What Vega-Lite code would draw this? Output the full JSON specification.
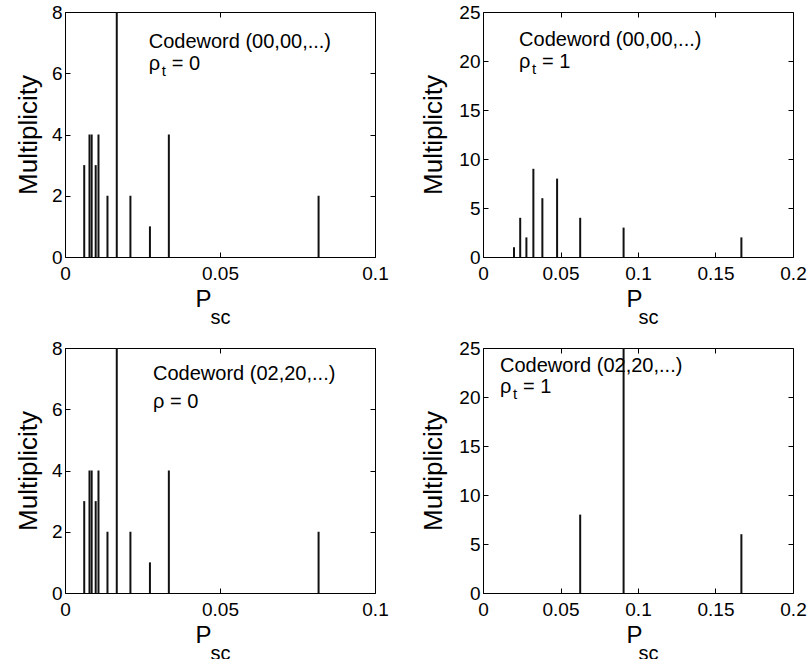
{
  "$schema": "https://vega.github.io/schema/vega-lite/v6.json",
  "background": "white",
  "padding": {"left": 14, "top": 2, "right": 0, "bottom": 0},
  "bounds": "flush",
  "columns": 2,
  "spacing": {"row": 91, "column": 108},
  "config": {
    "font": "Liberation Sans",
    "view": {"stroke": "black", "strokeWidth": 1},
    "axis": {"domain": false, "grid": false, "tickColor": "black", "tickSize": -5, "labelColor": "black", "labelFontSize": 19, "labelFont": "Liberation Sans", "labelFlush": false, "labelOverlap": false, "titleColor": "black", "titleFont": "Liberation Sans", "titleFontWeight": "normal"},
    "text": {"font": "Liberation Sans", "fontSize": 20, "fontWeight": "normal", "fill": "black", "align": "left", "baseline": "alphabetic"}
  },
  "datasets": {
    "rho0": [
      {"P": 0.0062, "M": 3}, {"P": 0.0079, "M": 4}, {"P": 0.0086, "M": 4}, {"P": 0.0099, "M": 3},
      {"P": 0.0108, "M": 4}, {"P": 0.0137, "M": 2}, {"P": 0.0167, "M": 8}, {"P": 0.0211, "M": 2},
      {"P": 0.0274, "M": 1}, {"P": 0.0335, "M": 4}, {"P": 0.0818, "M": 2}
    ],
    "c00rho1": [
      {"P": 0.0200, "M": 1}, {"P": 0.0240, "M": 4}, {"P": 0.0280, "M": 2}, {"P": 0.0325, "M": 9},
      {"P": 0.0383, "M": 6}, {"P": 0.0478, "M": 8}, {"P": 0.0627, "M": 4}, {"P": 0.0907, "M": 3},
      {"P": 0.1667, "M": 2}
    ],
    "c02rho1": [
      {"P": 0.0627, "M": 8}, {"P": 0.0907, "M": 25}, {"P": 0.1667, "M": 6}
    ],
    "one": [{"n": 1}]
  },
  "concat": [
    {
      "width": 310, "height": 245,
      "data": {"name": "rho0"},
      "resolve": {"axis": {"x": "independent", "y": "independent"}},
      "layer": [
        {"mark": {"type": "rule", "strokeWidth": 2, "color": "#111"},
         "encoding": {
           "x": {"field": "P", "type": "quantitative", "scale": {"domain": [0, 0.1], "nice": false}, "axis": {"orient": "bottom", "values": [0, 0.05, 0.1], "labelExpr": "format(datum.value, '~g')", "labelPadding": 12, "title": "P", "titleFontSize": 24, "titleAlign": "left", "titleX": 130, "titlePadding": 4}},
           "y": {"field": "M", "type": "quantitative", "scale": {"domain": [0, 8], "nice": false}, "axis": {"orient": "left", "values": [0, 2, 4, 6, 8], "labelPadding": 8, "title": "Multiplicity", "titleFontSize": 26, "titlePadding": 10}},
           "y2": {"datum": 0}
         }},
        {"mark": {"type": "rule", "opacity": 0},
         "encoding": {
           "x": {"field": "P", "type": "quantitative", "axis": {"orient": "top", "values": [0, 0.05, 0.1], "labels": false, "title": null}},
           "y": {"field": "M", "type": "quantitative", "axis": {"orient": "right", "values": [0, 2, 4, 6, 8], "labels": false, "title": null}}
         }},
        {"mark": {"type": "rule", "opacity": 0},
         "encoding": {
           "x": {"field": "P", "type": "quantitative", "axis": {"orient": "bottom", "labels": false, "ticks": false, "title": "sc", "titleFontSize": 20, "titleAlign": "left", "titleX": 145, "titlePadding": 50}},
           "y": {"field": "M", "type": "quantitative", "axis": null}
         }},
        {"data": {"name": "one"}, "mark": {"type": "text", "text": "Codeword (00,00,...)"},
         "encoding": {"x": {"datum": 0.027, "type": "quantitative", "axis": null}, "y": {"datum": 6.81, "type": "quantitative", "axis": null}}},
        {"data": {"name": "one"}, "mark": {"type": "text", "text": "ρ"},
         "encoding": {"x": {"datum": 0.027, "type": "quantitative", "axis": null}, "y": {"datum": 6.1, "type": "quantitative", "axis": null}}},
        {"data": {"name": "one"}, "mark": {"type": "text", "text": "t", "fontSize": 15, "dx": 13, "dy": 6},
         "encoding": {"x": {"datum": 0.027, "type": "quantitative", "axis": null}, "y": {"datum": 6.1, "type": "quantitative", "axis": null}}},
        {"data": {"name": "one"}, "mark": {"type": "text", "text": "= 0", "dx": 23},
         "encoding": {"x": {"datum": 0.027, "type": "quantitative", "axis": null}, "y": {"datum": 6.1, "type": "quantitative", "axis": null}}}
      ]
    },
    {
      "width": 310, "height": 245,
      "data": {"name": "c00rho1"},
      "resolve": {"axis": {"x": "independent", "y": "independent"}},
      "layer": [
        {"mark": {"type": "rule", "strokeWidth": 2, "color": "#111"},
         "encoding": {
           "x": {"field": "P", "type": "quantitative", "scale": {"domain": [0, 0.2], "nice": false}, "axis": {"orient": "bottom", "values": [0, 0.05, 0.1, 0.15, 0.2], "labelExpr": "format(datum.value, '~g')", "labelPadding": 12, "title": "P", "titleFontSize": 24, "titleAlign": "left", "titleX": 143, "titlePadding": 4}},
           "y": {"field": "M", "type": "quantitative", "scale": {"domain": [0, 25], "nice": false}, "axis": {"orient": "left", "values": [0, 5, 10, 15, 20, 25], "labelPadding": 8, "title": "Multiplicity", "titleFontSize": 26, "titlePadding": 12}},
           "y2": {"datum": 0}
         }},
        {"mark": {"type": "rule", "opacity": 0},
         "encoding": {
           "x": {"field": "P", "type": "quantitative", "axis": {"orient": "top", "values": [0, 0.05, 0.1, 0.15, 0.2], "labels": false, "title": null}},
           "y": {"field": "M", "type": "quantitative", "axis": {"orient": "right", "values": [0, 5, 10, 15, 20, 25], "labels": false, "title": null}}
         }},
        {"mark": {"type": "rule", "opacity": 0},
         "encoding": {
           "x": {"field": "P", "type": "quantitative", "axis": {"orient": "bottom", "labels": false, "ticks": false, "title": "sc", "titleFontSize": 20, "titleAlign": "left", "titleX": 155, "titlePadding": 50}},
           "y": {"field": "M", "type": "quantitative", "axis": null}
         }},
        {"data": {"name": "one"}, "mark": {"type": "text", "text": "Codeword (00,00,...)"},
         "encoding": {"x": {"datum": 0.0233, "type": "quantitative", "axis": null}, "y": {"datum": 21.5, "type": "quantitative", "axis": null}}},
        {"data": {"name": "one"}, "mark": {"type": "text", "text": "ρ"},
         "encoding": {"x": {"datum": 0.0233, "type": "quantitative", "axis": null}, "y": {"datum": 19.3, "type": "quantitative", "axis": null}}},
        {"data": {"name": "one"}, "mark": {"type": "text", "text": "t", "fontSize": 15, "dx": 13, "dy": 6},
         "encoding": {"x": {"datum": 0.0233, "type": "quantitative", "axis": null}, "y": {"datum": 19.3, "type": "quantitative", "axis": null}}},
        {"data": {"name": "one"}, "mark": {"type": "text", "text": "= 1", "dx": 23},
         "encoding": {"x": {"datum": 0.0233, "type": "quantitative", "axis": null}, "y": {"datum": 19.3, "type": "quantitative", "axis": null}}}
      ]
    },
    {
      "width": 310, "height": 245,
      "data": {"name": "rho0"},
      "resolve": {"axis": {"x": "independent", "y": "independent"}},
      "layer": [
        {"mark": {"type": "rule", "strokeWidth": 2, "color": "#111"},
         "encoding": {
           "x": {"field": "P", "type": "quantitative", "scale": {"domain": [0, 0.1], "nice": false}, "axis": {"orient": "bottom", "values": [0, 0.05, 0.1], "labelExpr": "format(datum.value, '~g')", "labelPadding": 12, "title": "P", "titleFontSize": 24, "titleAlign": "left", "titleX": 130, "titlePadding": 4}},
           "y": {"field": "M", "type": "quantitative", "scale": {"domain": [0, 8], "nice": false}, "axis": {"orient": "left", "values": [0, 2, 4, 6, 8], "labelPadding": 8, "title": "Multiplicity", "titleFontSize": 26, "titlePadding": 10}},
           "y2": {"datum": 0}
         }},
        {"mark": {"type": "rule", "opacity": 0},
         "encoding": {
           "x": {"field": "P", "type": "quantitative", "axis": {"orient": "top", "values": [0, 0.05, 0.1], "labels": false, "title": null}},
           "y": {"field": "M", "type": "quantitative", "axis": {"orient": "right", "values": [0, 2, 4, 6, 8], "labels": false, "title": null}}
         }},
        {"mark": {"type": "rule", "opacity": 0},
         "encoding": {
           "x": {"field": "P", "type": "quantitative", "axis": {"orient": "bottom", "labels": false, "ticks": false, "title": "sc", "titleFontSize": 20, "titleAlign": "left", "titleX": 145, "titlePadding": 50}},
           "y": {"field": "M", "type": "quantitative", "axis": null}
         }},
        {"data": {"name": "one"}, "mark": {"type": "text", "text": "Codeword (02,20,...)"},
         "encoding": {"x": {"datum": 0.0284, "type": "quantitative", "axis": null}, "y": {"datum": 6.96, "type": "quantitative", "axis": null}}},
        {"data": {"name": "one"}, "mark": {"type": "text", "text": "ρ = 0"},
         "encoding": {"x": {"datum": 0.0284, "type": "quantitative", "axis": null}, "y": {"datum": 6.04, "type": "quantitative", "axis": null}}}
      ]
    },
    {
      "width": 310, "height": 245,
      "data": {"name": "c02rho1"},
      "resolve": {"axis": {"x": "independent", "y": "independent"}},
      "layer": [
        {"mark": {"type": "rule", "strokeWidth": 2, "color": "#111"},
         "encoding": {
           "x": {"field": "P", "type": "quantitative", "scale": {"domain": [0, 0.2], "nice": false}, "axis": {"orient": "bottom", "values": [0, 0.05, 0.1, 0.15, 0.2], "labelExpr": "format(datum.value, '~g')", "labelPadding": 12, "title": "P", "titleFontSize": 24, "titleAlign": "left", "titleX": 143, "titlePadding": 4}},
           "y": {"field": "M", "type": "quantitative", "scale": {"domain": [0, 25], "nice": false}, "axis": {"orient": "left", "values": [0, 5, 10, 15, 20, 25], "labelPadding": 8, "title": "Multiplicity", "titleFontSize": 26, "titlePadding": 12}},
           "y2": {"datum": 0}
         }},
        {"mark": {"type": "rule", "opacity": 0},
         "encoding": {
           "x": {"field": "P", "type": "quantitative", "axis": {"orient": "top", "values": [0, 0.05, 0.1, 0.15, 0.2], "labels": false, "title": null}},
           "y": {"field": "M", "type": "quantitative", "axis": {"orient": "right", "values": [0, 5, 10, 15, 20, 25], "labels": false, "title": null}}
         }},
        {"mark": {"type": "rule", "opacity": 0},
         "encoding": {
           "x": {"field": "P", "type": "quantitative", "axis": {"orient": "bottom", "labels": false, "ticks": false, "title": "sc", "titleFontSize": 20, "titleAlign": "left", "titleX": 155, "titlePadding": 50}},
           "y": {"field": "M", "type": "quantitative", "axis": null}
         }},
        {"data": {"name": "one"}, "mark": {"type": "text", "text": "Codeword (02,20,...)"},
         "encoding": {"x": {"datum": 0.011, "type": "quantitative", "axis": null}, "y": {"datum": 22.6, "type": "quantitative", "axis": null}}},
        {"data": {"name": "one"}, "mark": {"type": "text", "text": "ρ"},
         "encoding": {"x": {"datum": 0.011, "type": "quantitative", "axis": null}, "y": {"datum": 20.4, "type": "quantitative", "axis": null}}},
        {"data": {"name": "one"}, "mark": {"type": "text", "text": "t", "fontSize": 15, "dx": 13, "dy": 6},
         "encoding": {"x": {"datum": 0.011, "type": "quantitative", "axis": null}, "y": {"datum": 20.4, "type": "quantitative", "axis": null}}},
        {"data": {"name": "one"}, "mark": {"type": "text", "text": "= 1", "dx": 23},
         "encoding": {"x": {"datum": 0.011, "type": "quantitative", "axis": null}, "y": {"datum": 20.4, "type": "quantitative", "axis": null}}}
      ]
    }
  ]
}
